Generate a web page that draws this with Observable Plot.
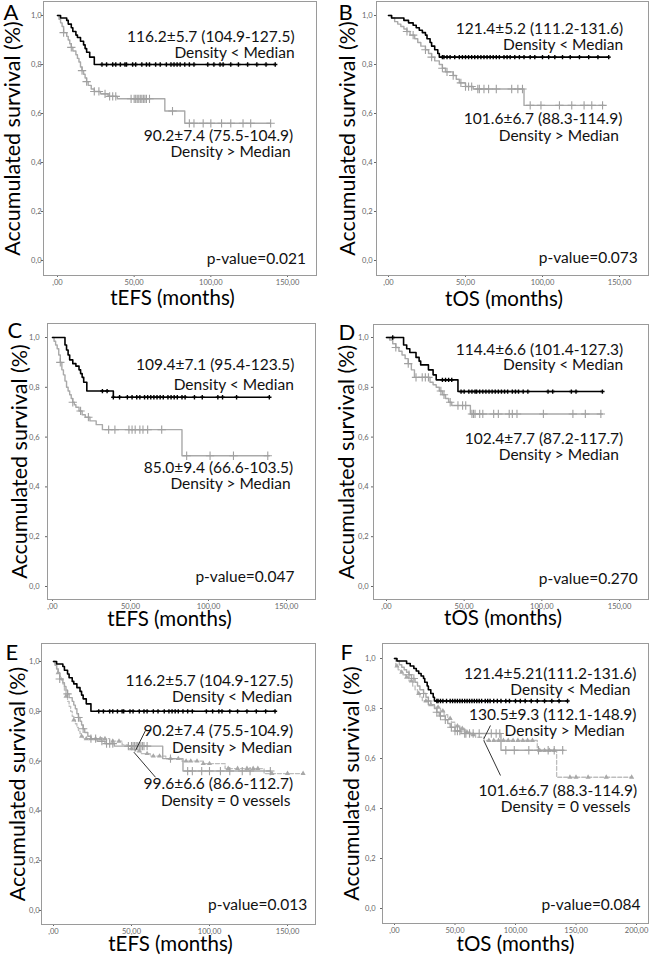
<!DOCTYPE html>
<html><head><meta charset="utf-8">
<script src="https://cdn.jsdelivr.net/npm/d3@7"></script>
<script src="https://cdn.jsdelivr.net/npm/@observablehq/plot@0.6"></script>
<style>
body{margin:0;background:#fff;}
#fig{position:relative;width:650px;height:958px;background:#fff;overflow:hidden;}
#fig > svg{position:absolute;}
</style></head><body><div id="fig"></div>
<script>
// ---------------- DATA ----------------
// tEFS, density < median (black)
const efsLowT = [0, 2, 6, 7, 9, 10, 12, 13, 15, 17, 18, 19, 21, 24];
const efsLowS = [1, 0.99, 0.98, 0.965, 0.95, 0.935, 0.92, 0.91, 0.895, 0.88, 0.865, 0.85, 0.83, 0.80];
const efsLowEnd = 142;
const efsLowCens = [29, 32, 36, 38, 41, 44, 45, 49, 51, 55, 58, 60, 64, 67, 71, 74, 76, 78, 80, 83, 86, 89, 98, 102, 106, 108, 113, 118, 124, 130, 136, 142];
// tEFS, density > median (grey)
const efsHighT = [0, 1, 2, 3, 4, 6, 7, 8, 9, 10, 12, 13, 14, 15, 16, 17, 18, 19, 20, 22, 24, 28, 33, 39, 70, 83];
const efsHighS = [1, 0.985, 0.97, 0.955, 0.93, 0.915, 0.90, 0.885, 0.87, 0.855, 0.84, 0.825, 0.81, 0.79, 0.775, 0.76, 0.745, 0.73, 0.715, 0.70, 0.69, 0.68, 0.67, 0.66, 0.61, 0.56];
const efsHighEnd = 139;
const efsHighCens = [4, 9, 16, 19, 24, 27, 31, 34, 36, 38, 48, 50, 51, 52, 53, 54, 55, 56, 57, 58, 60, 75, 86, 89, 95, 100, 107, 113, 121, 126, 139];
// tOS, density < median (black)
const osLowT = [0, 2, 10, 13, 16, 18, 20, 22, 24, 25, 27, 28, 30, 32, 33];
const osLowS = [1, 0.99, 0.98, 0.97, 0.96, 0.95, 0.94, 0.93, 0.92, 0.905, 0.89, 0.875, 0.86, 0.845, 0.83];
const osLowEnd = 143;
const osLowCens = [35, 36, 38, 40, 43, 46, 48, 50, 52, 54, 56, 58, 60, 62, 64, 66, 68, 70, 72, 75, 77, 79, 82, 85, 88, 92, 95, 100, 104, 108, 113, 118, 124, 130, 136, 143];
// tOS, density > median (grey)
const osHighT = [0, 2, 4, 6, 8, 10, 12, 14, 17, 19, 21, 24, 26, 28, 30, 33, 35, 37, 42, 44, 46, 50, 55, 88];
const osHighS = [1, 0.99, 0.975, 0.965, 0.955, 0.945, 0.935, 0.92, 0.905, 0.89, 0.875, 0.86, 0.845, 0.83, 0.815, 0.80, 0.785, 0.77, 0.755, 0.74, 0.725, 0.71, 0.70, 0.633];
const osHighEnd = 140;
const osHighCens = [12, 16, 24, 28, 35, 38, 42, 47, 50, 52, 54, 58, 59, 62, 65, 70, 80, 84, 87, 92, 99, 111, 119, 127, 132, 139];
// C: tEFS (second cohort) black / grey
const cLowT = [0, 8, 9, 10, 11, 13, 15, 17, 18, 19, 20, 22, 39];
const cLowS = [1, 0.97, 0.95, 0.93, 0.91, 0.895, 0.885, 0.87, 0.855, 0.84, 0.82, 0.785, 0.76];
const cLowEnd = 139;
const cLowCens = [32, 35, 39, 43, 48, 51, 54, 56, 59, 61, 63, 65, 67, 69, 71, 74, 76, 78, 80, 83, 85, 91, 96, 106, 109, 118, 139];
const cHighT = [0, 1, 2, 3, 4, 5, 6, 7, 8, 9, 10, 11, 12, 13, 14, 15, 17, 19, 21, 24, 28, 32, 83];
const cHighS = [1, 0.985, 0.97, 0.955, 0.93, 0.90, 0.87, 0.85, 0.825, 0.80, 0.785, 0.77, 0.755, 0.74, 0.73, 0.72, 0.705, 0.69, 0.68, 0.665, 0.65, 0.63, 0.525];
const cHighEnd = 139;
const cHighCens = [5, 13, 18, 23, 36, 40, 49, 51, 53, 56, 58, 61, 70, 86, 101, 116, 138];
// D: tOS (second cohort) black / grey
const dLowT = [0, 11, 13, 15, 19, 21, 22, 27, 30, 32, 46];
const dLowS = [1, 0.97, 0.955, 0.94, 0.92, 0.905, 0.89, 0.87, 0.85, 0.83, 0.783];
const dLowEnd = 139;
const dLowCens = [4, 36, 38, 40, 42, 48, 50, 53, 55, 57, 58, 60, 62, 64, 66, 68, 70, 72, 74, 76, 78, 81, 83, 85, 88, 91, 104, 107, 119, 122, 139];
const dHighT = [0, 2, 4, 6, 8, 10, 12, 14, 16, 18, 28, 30, 32, 34, 36, 38, 40, 42, 54];
const dHighS = [1, 0.99, 0.975, 0.96, 0.945, 0.93, 0.915, 0.895, 0.87, 0.84, 0.82, 0.81, 0.80, 0.785, 0.77, 0.755, 0.74, 0.727, 0.693];
const dHighEnd = 139;
const dHighCens = [6, 14, 19, 23, 25, 27, 35, 37, 41, 46, 49, 51, 55, 56, 57, 60, 62, 69, 72, 79, 81, 84, 101, 120, 128, 138];
// E: tEFS density = 0 vessels (dashed, triangles)
const efsZeroT = [0, 1, 2, 3, 4, 5, 6, 7, 8, 9, 10, 11, 12, 13, 14, 15, 16, 17, 18, 19, 36, 44, 48, 52, 56, 62, 72, 82, 96, 110, 135];
const efsZeroS = [1, 0.985, 0.97, 0.955, 0.94, 0.925, 0.91, 0.885, 0.86, 0.84, 0.82, 0.80, 0.78, 0.765, 0.75, 0.735, 0.72, 0.71, 0.70, 0.69, 0.68, 0.665, 0.65, 0.64, 0.63, 0.62, 0.61, 0.60, 0.59, 0.57, 0.55];
const efsZeroEnd = 160;
const efsZeroCens = [3, 8, 13, 18, 21, 24, 27, 30, 33, 38, 42, 50, 55, 60, 64, 68, 75, 80, 85, 88, 92, 96, 100, 112, 118, 124, 128, 131, 140, 150, 160];
// F: tOS density = 0 vessels (dashed, triangles)
const osZeroT = [0, 1, 3, 5, 7, 9, 12, 15, 17, 19, 21, 23, 28, 33, 38, 41, 44, 47, 50, 54, 58, 63, 67, 74, 118, 134];
const osZeroS = [1, 0.97, 0.955, 0.945, 0.935, 0.925, 0.91, 0.89, 0.875, 0.86, 0.845, 0.83, 0.815, 0.805, 0.79, 0.775, 0.76, 0.745, 0.73, 0.72, 0.705, 0.695, 0.685, 0.672, 0.632, 0.525];
const osZeroEnd = 196;
const osZeroCens = [2, 6, 10, 14, 20, 26, 30, 36, 40, 46, 52, 56, 60, 65, 78, 82, 86, 90, 94, 98, 102, 106, 110, 114, 120, 124, 128, 132, 145, 150, 160, 175, 196];

// tick labels
const xTicks150 = [0, 50, 100, 150];
const xTickLabels150 = [",00", "50,00", "100,00", "150,00"];
const xTicks200 = [0, 50, 100, 150, 200];
const xTickLabels200 = [",00", "50,00", "100,00", "150,00", "200,00"];
const yTicks = [0, 0.2, 0.4, 0.6, 0.8, 1.0];
const yTickLabels = ["0,0", "0,2", "0,4", "0,6", "0,8", "1,0"];

// texts
const panelLetters = ["A", "B", "C", "D", "E", "F"];
const yAxisTitle = "Accumulated survival (%)";
const xTitles = ["tEFS (months)", "tOS (months)", "tEFS (months)", "tOS (months)", "tEFS (months)", "tOS (months)"];
const pValues = ["p-value=0.021", "p-value=0.073", "p-value=0.047", "p-value=0.270", "p-value=0.013", "p-value=0.084"];
const annA = ["116.2±5.7 (104.9-127.5)", "Density < Median", "90.2±7.4 (75.5-104.9)", "Density > Median"];
const annB = ["121.4±5.2 (111.2-131.6)", "Density < Median", "101.6±6.7 (88.3-114.9)", "Density > Median"];
const annC = ["109.4±7.1 (95.4-123.5)", "Density < Median", "85.0±9.4 (66.6-103.5)", "Density > Median"];
const annD = ["114.4±6.6 (101.4-127.3)", "Density < Median", "102.4±7.7 (87.2-117.7)", "Density > Median"];
const annE = ["116.2±5.7 (104.9-127.5)", "Density < Median", "90.2±7.4 (75.5-104.9)", "Density > Median", "99.6±6.6 (86.6-112.7)", "Density = 0 vessels"];
const annF = ["121.4±5.21(111.2-131.6)", "Density < Median", "130.5±9.3 (112.1-148.9)", "Density > Median", "101.6±6.7 (88.3-114.9)", "Density = 0 vessels"];

// ---------------- LAYOUT (page pixels) ----------------
const FONT = "Lato, 'Open Sans', sans-serif";
const layout = [
  {box:[0,0,325,320],   frame:[43,1,316,275],    xcal:[57,287,150],  ycal:[15,260],  yGap:1, yLabX:13,  xLabY:298, letter:[3,12.5],
   ann:[[154.6,0.911],[154.6,0.846],[153.7,0.510],[152,0.442]], pPos:[162,0.007]},
  {box:[325,0,325,320], frame:[376,1,648,275],   xcal:[388,619,150], ycal:[15,260],  yGap:4, yLabX:348, xLabY:299, letter:[338,12.5],
   ann:[[152.4,0.946],[152.4,0.880],[151.8,0.578],[149.6,0.510]], pPos:[161.9,0.009]},
  {box:[0,320,325,320], frame:[47,323,315,599],  xcal:[52,286,150],  ycal:[337,586], yGap:8, yLabX:20,  xLabY:619, letter:[7,330],
   ann:[[155.1,0.888],[154.7,0.811],[154.3,0.477],[152.6,0.410]], pPos:[155.1,0.037]},
  {box:[325,320,325,320], frame:[373,324,648,599], xcal:[386,619,150], ycal:[337,586], yGap:5, yLabX:347, xLabY:618, letter:[338,332.5],
   ann:[[152.4,0.951],[152.4,0.890],[152.4,0.593],[149.6,0.526]], pPos:[161.8,0.031]},
  {box:[0,640,325,318], frame:[41,643,315,924],  xcal:[53,287,150],  ycal:[661,910], yGap:1, yLabX:18,  xLabY:944, letter:[5,652],
   ann:[[153.6,0.921],[153,0.859],[153.6,0.720],[153,0.653],[153.6,0.506],[151.9,0.439]], pPos:[162.6,0.023],
   pointers:[[59,0.723,52.6,0.643],[51.5,0.636,65.4,0.535]]},
  {box:[325,640,325,318], frame:[382,643,648,923], xcal:[394,636,200], ycal:[658,908], yGap:7, yLabX:352, xLabY:944, letter:[340,652],
   ann:[[200,0.939],[195,0.875],[200,0.772],[190.3,0.709],[200.5,0.469],[195,0.405]], pPos:[203.3,0.012],
   pointers:[[79.3,0.732,73.8,0.679],[73.8,0.672,87.6,0.532]]}
];

// ---------------- HELPERS ----------------
function stepPoints(T, S, end) {
  const pts = T.map((t, i) => ({t, s: S[i]}));
  pts.push({t: end, s: S[S.length - 1]});
  return pts;
}
function censorPoints(T, S, C) {
  return C.map(c => {
    let s = S[0];
    for (let i = 0; i < T.length; i++) if (T[i] <= c) s = S[i];
    return {t: c, s};
  });
}
const STY = {
  black: {stroke: "#000", width: 1.6, dash: null, sym: "plus", r: 1.5, sw: 1.4, mark: "#000"},
  grey:  {stroke: "#a9a9a9", width: 1.4, dash: null, sym: "plus", r: 2.8, sw: 1.1, mark: "#a0a0a0"},
  zero:  {stroke: "#bdbdbd", width: 1.3, dash: "4 2", sym: "triangle", r: 1.9, sw: 0, mark: "#a8a8a8"}
};
function curveMarks(T, S, end, C, kind) {
  const st = STY[kind];
  const marks = [Plot.line(stepPoints(T, S, end), {x: "t", y: "s", curve: "step-after", stroke: st.stroke, strokeWidth: st.width, strokeDasharray: st.dash})];
  if (st.sym === "triangle") {
    marks.push(Plot.dot(censorPoints(T, S, C), {x: "t", y: "s", symbol: "triangle", r: st.r, fill: st.mark, stroke: "none"}));
  } else {
    marks.push(Plot.dot(censorPoints(T, S, C), {x: "t", y: "s", symbol: "plus", r: st.r, stroke: st.mark, strokeWidth: st.sw}));
  }
  return marks;
}

const curvesByPanel = [
  [[efsHighT, efsHighS, efsHighEnd, efsHighCens, "grey"], [efsLowT, efsLowS, efsLowEnd, efsLowCens, "black"]],
  [[osHighT, osHighS, osHighEnd, osHighCens, "grey"], [osLowT, osLowS, osLowEnd, osLowCens, "black"]],
  [[cHighT, cHighS, cHighEnd, cHighCens, "grey"], [cLowT, cLowS, cLowEnd, cLowCens, "black"]],
  [[dHighT, dHighS, dHighEnd, dHighCens, "grey"], [dLowT, dLowS, dLowEnd, dLowCens, "black"]],
  [[efsZeroT, efsZeroS, efsZeroEnd, efsZeroCens, "zero"], [efsHighT, efsHighS, efsHighEnd, efsHighCens, "grey"], [efsLowT, efsLowS, efsLowEnd, efsLowCens, "black"]],
  [[osZeroT, osZeroS, osZeroEnd, osZeroCens, "zero"], [osHighT, osHighS, osHighEnd, osHighCens, "grey"], [osLowT, osLowS, osLowEnd, osLowCens, "black"]]
];
const annByPanel = [annA, annB, annC, annD, annE, annF];

const fig = document.getElementById("fig");
layout.forEach((L, i) => {
  const [bl, bt, bw, bh] = L.box;
  const [fl, ft, fr, fb] = L.frame;
  const [x0p, x1p, x1v] = L.xcal;
  const kx = (x1p - x0p) / x1v;
  const [y1p, y0p] = L.ycal;
  const ky = (y0p - y1p);
  const xDomain = [(fl - x0p) / kx, (fr - x0p) / kx];
  const yDomain = [(y0p - fb) / ky, (y0p - ft) / ky];
  const xT = x1v === 200 ? xTicks200 : xTicks150;
  const xTL = x1v === 200 ? xTickLabels200 : xTickLabels150;

  const marks = [];
  curvesByPanel[i].forEach(c => marks.push(...curveMarks(...c)));
  const ann = annByPanel[i].map((text, j) => ({text, x: L.ann[j][0], y: L.ann[j][1]}));
  marks.push(Plot.text(ann, {x: "x", y: "y", text: "text", textAnchor: "end", lineAnchor: "middle", fontSize: 15.5, fontFamily: FONT, fill: "#111"}));
  marks.push(Plot.text([pValues[i]], {x: () => L.pPos[0], y: () => L.pPos[1], textAnchor: "end", lineAnchor: "middle", fontSize: 15.5, fontFamily: FONT, fill: "#111"}));
  if (L.pointers) {
    marks.push(Plot.link(L.pointers, {x1: d => d[0], y1: d => d[1], x2: d => d[2], y2: d => d[3], stroke: "#333", strokeWidth: 1}));
  }
  marks.push(Plot.frame({stroke: "#9a9a9a", strokeWidth: 1}));
  // panel letter
  marks.push(Plot.text([panelLetters[i]], {frameAnchor: "top-left", dx: L.letter[0] - fl, dy: L.letter[1] - ft, textAnchor: "start", lineAnchor: "middle", fontSize: 22, fontFamily: FONT, fill: "#000"}));
  // y title
  marks.push(Plot.text([yAxisTitle], {frameAnchor: "left", dx: L.yLabX - fl, rotate: -90, textAnchor: "middle", lineAnchor: "middle", fontSize: 21.5, fontFamily: FONT, fill: "#000"}));
  // x title (centred on the axis range)
  const xMidPx = (x0p + x0p + kx * xT[xT.length - 1]) / 2;
  marks.push(Plot.text([xTitles[i]], {frameAnchor: "bottom", dx: xMidPx - (fl + fr) / 2, dy: L.xLabY - fb, textAnchor: "middle", lineAnchor: "middle", fontSize: 20.5, fontFamily: FONT, fill: "#000"}));

  const svg = Plot.plot({
    width: bw, height: bh,
    marginLeft: fl - bl, marginTop: ft - bt, marginRight: bl + bw - fr, marginBottom: bt + bh - fb,
    style: {fontFamily: FONT, fontSize: "7.5px", color: "#666", background: "transparent", overflow: "visible"},
    x: {domain: xDomain, ticks: xT, tickFormat: d => xTL[xT.indexOf(d)], tickSize: 2, tickPadding: 2, label: null},
    y: {domain: yDomain, ticks: yTicks, tickFormat: d => yTickLabels[yTicks.indexOf(d)], tickSize: 2, tickPadding: Math.max(0, L.yGap - 2), label: null},
    marks
  });
  svg.style.left = bl + "px";
  svg.style.top = bt + "px";
  fig.appendChild(svg);
});
</script>
</body></html>
